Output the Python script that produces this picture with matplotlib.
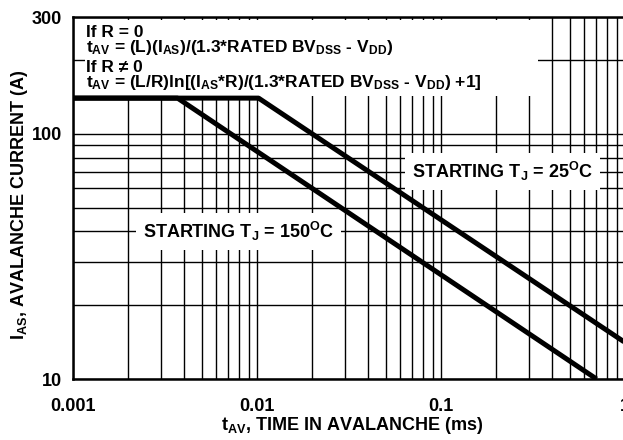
import numpy as np
import matplotlib
matplotlib.use("Agg")
import matplotlib.pyplot as plt
from matplotlib.patches import Rectangle
from matplotlib.ticker import FixedLocator, NullFormatter

# Police en gras type Arial
plt.rcParams['font.family'] = ['Liberation Sans', 'DejaVu Sans']
plt.rcParams['font.weight'] = 'bold'
plt.rcParams['mathtext.fontset'] = 'custom'
plt.rcParams['mathtext.rm'] = 'Liberation Sans:bold'
plt.rcParams['mathtext.it'] = 'Liberation Sans:bold'
plt.rcParams['mathtext.bf'] = 'Liberation Sans:bold'

# Donnees
t_150 = [0.001, 0.0037, 0.70]
i_150 = [140, 140, 10]
t_25 = [0.001, 0.0102, 1.0]
i_25 = [140, 140, 14.1]

x_ticks = [0.001, 0.01, 0.1, 1]
x_ticklabels = ['0.001', '0.01', '0.1', '1']
y_ticks = [10, 100, 300]
y_ticklabels = ['10', '100', '300']
y_minor = [20, 30, 40, 50, 60, 70, 80, 90, 200]
x_minor = [m * d for d in [0.001, 0.01, 0.1] for m in range(2, 10)]

formules = [
    "If R = 0",
    "t$_{\\mathrm{AV}}$ = (L)(I$_{\\mathrm{AS}}$)/(1.3*RATED BV$_{\\mathrm{DSS}}$ - V$_{\\mathrm{DD}}$)",
    "If R \u2260 0",
    "t$_{\\mathrm{AV}}$ = (L/R)ln[(I$_{\\mathrm{AS}}$*R)/(1.3*RATED BV$_{\\mathrm{DSS}}$ - V$_{\\mathrm{DD}}$) +1]",
]

fig = plt.figure(figsize=(6.23, 4.40), dpi=100)
ax = fig.add_axes([73 / 623, 61 / 440, 552 / 623, 362 / 440])
ax.set_xscale('log')
ax.set_yscale('log')
ax.set_xlim(0.001, 1)
ax.set_ylim(10, 300)

ax.xaxis.set_major_locator(FixedLocator(x_ticks))
ax.xaxis.set_minor_locator(FixedLocator(x_minor))
ax.xaxis.set_minor_formatter(NullFormatter())
ax.set_xticklabels(x_ticklabels)
ax.yaxis.set_major_locator(FixedLocator(y_ticks))
ax.yaxis.set_minor_locator(FixedLocator(y_minor))
ax.yaxis.set_minor_formatter(NullFormatter())
ax.set_yticklabels(y_ticklabels)

ax.grid(True, which='both', color='black', lw=1.0, zorder=1)
ax.set_axisbelow(True)
ax.tick_params(which='both', length=0, labelsize=13)
ax.tick_params(axis='x', pad=14)
ax.tick_params(axis='y', pad=8)
for s in ax.spines.values():
    s.set_linewidth(1.8)

# Cadre blanc pour les formules
ax.add_patch(Rectangle((0.022, 0.782), 0.82, 0.21, transform=ax.transAxes,
                       facecolor='white', edgecolor='none', zorder=2))

ax.plot(t_150, i_150, color='black', lw=3.6, zorder=4, solid_capstyle='butt')
ax.plot(t_25, i_25, color='black', lw=3.6, zorder=4, solid_capstyle='butt')

# lignes de formules, lignes de base en pixels
for ligne, yb in zip(formules, [37, 52, 72, 87]):
    ax.text(13 / 552, (379 - yb) / 362, ligne, transform=ax.transAxes, fontsize=12.5,
            va='baseline', ha='left', zorder=3)

box = dict(facecolor='white', edgecolor='none', pad=5)
ax.text(0.0079, 40, 'STARTING T$_{\\mathrm{J}}$ = 150$^{\\mathrm{O}}$C', fontsize=13,
        ha='center', va='center', bbox=box, zorder=3)
ax.text(0.215, 70, 'STARTING T$_{\\mathrm{J}}$ = 25$^{\\mathrm{O}}$C', fontsize=13,
        ha='center', va='center', bbox=box, zorder=3)

fig.text(352 / 623, 1 - 425 / 440, 't$_{\\mathrm{AV}}$, TIME IN AVALANCHE (ms)', fontsize=13,
         ha='center', va='center')
fig.text(20 / 623, 1 - 205 / 440, 'I$_{\\mathrm{AS}}$, AVALANCHE CURRENT (A)', fontsize=13,
         ha='center', va='center', rotation=90)

fig.savefig('out.png', dpi=100)
